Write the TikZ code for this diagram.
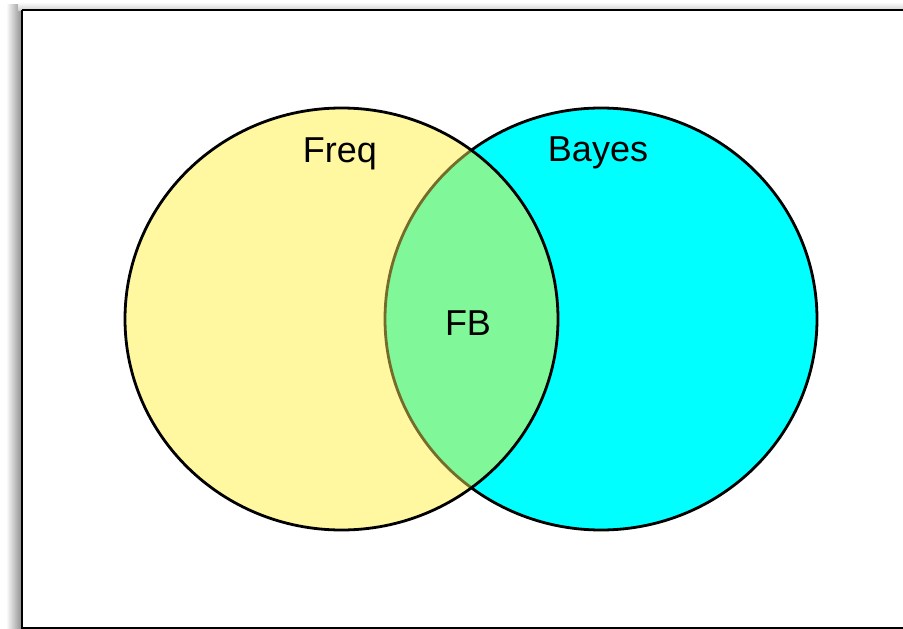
\documentclass[tikz,border=0pt]{standalone}
\usepackage{fontspec}
\setmainfont{Liberation Sans}
\definecolor{freqfill}{RGB}{255,248,160}
\definecolor{bayesfill}{RGB}{0,255,255}
\definecolor{bothfill}{RGB}{128,247,152}
\definecolor{bothedge}{RGB}{118,108,42}
\tikzset{
  setedge/.style={line width=2.8pt},
  setlabel/.style={font=\fontsize{36}{40}\selectfont, inner sep=0pt},
}
\begin{document}
\begin{tikzpicture}[x=1pt,y=-1pt]
  \useasboundingbox (0,0) rectangle (903,629);
  % drop shadow of the frame
  \shade[left color=white, right color=black!45] (6,4) rectangle (22,629);
  \shade[top color=white, bottom color=black!18] (18,2) rectangle (903,10);
  \fill[white] (22,10) rectangle (903,629);
  % frame
  \draw[line width=2.8pt] (22,10) -- (22,628) -- (910,628);
  \draw[line width=2.8pt] (22,10) -- (910,10);
  % set shapes
  \coordinate (cf) at (341.5,319);
  \coordinate (cb) at (601,319);
  \fill[bayesfill] (cb) ellipse [x radius=216, y radius=211];
  \draw[setedge] (cb) ellipse [x radius=216, y radius=211];
  \fill[freqfill] (cf) ellipse [x radius=216.5, y radius=211];
  \begin{scope}
    \clip (cf) ellipse [x radius=216.5, y radius=211];
    \fill[bothfill] (cb) ellipse [x radius=216, y radius=211];
    \draw[setedge, bothedge] (cb) ellipse [x radius=216, y radius=211];
  \end{scope}
  \draw[setedge] (cf) ellipse [x radius=216.5, y radius=211];
  % labels
  \node[setlabel] (freq) at (340,154) {Freq};
  \node[setlabel] (bayes) at (598,153) {Bayes};
  \node[setlabel] (fb) at (468,323) {FB};
\end{tikzpicture}
\end{document}
